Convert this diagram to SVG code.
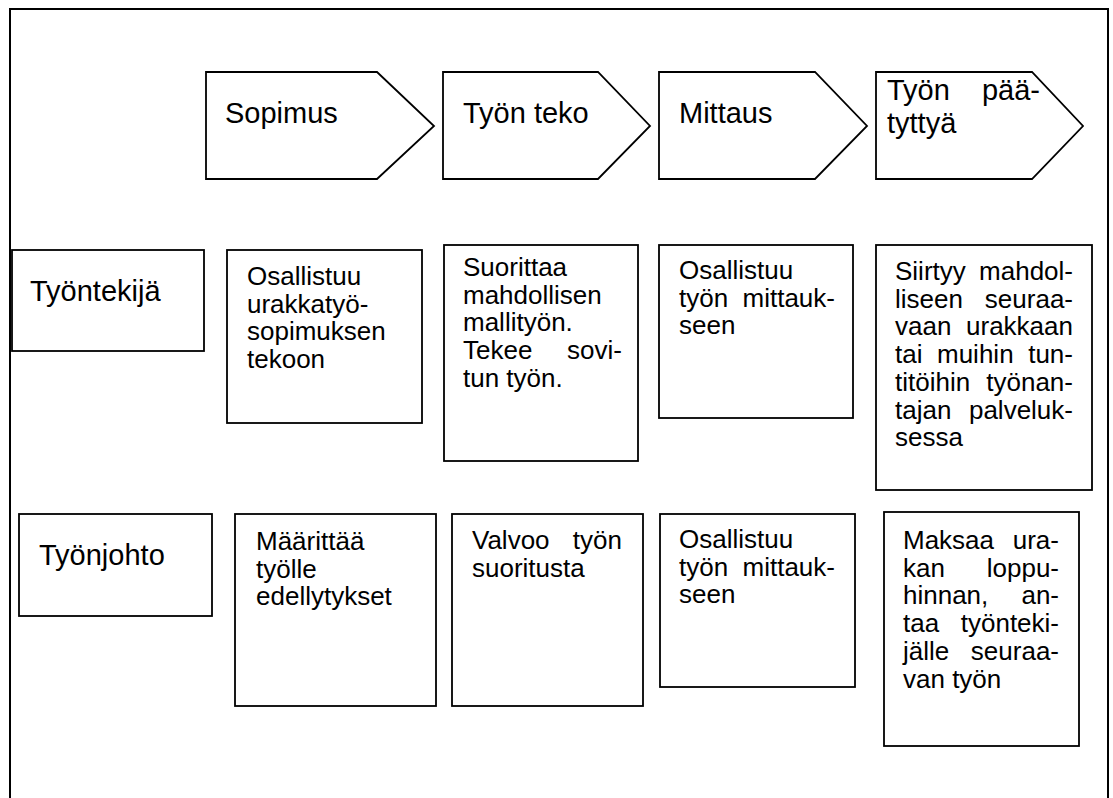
<svg xmlns="http://www.w3.org/2000/svg" width="1113" height="798" viewBox="0 0 1113 798">
<style>
.s{fill:#fff;stroke:#000;stroke-width:1.8}
.h{font-family:"Liberation Sans",Arial,sans-serif;font-size:29px;fill:#000}
.b{font-family:"Liberation Sans",Arial,sans-serif;font-size:26px;fill:#000}
.e{text-anchor:end}
</style>
<rect width="1113" height="798" fill="#fff"/>
<rect id="frame" x="10" y="9" width="1098" height="820" fill="none" stroke="#000" stroke-width="2"/>
<g id="connectors"/>
<g id="phase-sopimus">
<polygon class="s" points="206,72 377,72 434,126 377,179 206,179"/>
<text class="h" x="225" y="123">Sopimus</text>
</g>
<g id="phase-tyon-teko">
<polygon class="s" points="443,72 598,72 650,126 598,179 443,179"/>
<text class="h" x="463" y="123">Työn teko</text>
</g>
<g id="phase-mittaus">
<polygon class="s" points="659,72 815,72 867,126 815,179 659,179"/>
<text class="h" x="679" y="123">Mittaus</text>
</g>
<g id="phase-paatyttya">
<polygon class="s" points="876,72 1032,72 1083,126 1032,179 876,179"/>
<text class="h" x="887" y="100">Työn</text>
<text class="h e" x="1040" y="100">pää-</text>
<text class="h" x="887" y="133">tyttyä</text>
</g>
<g id="role-tyontekija">
<rect class="s" x="12" y="250" width="192" height="101"/>
<text class="h" x="30" y="301">Työntekijä</text>
</g>
<g id="r1-sopimus">
<rect class="s" x="227" y="250" width="195" height="173"/>
<text class="b" x="247" y="285">Osallistuu</text>
<text class="b" x="247" y="312.7">urakkatyö-</text>
<text class="b" x="247" y="340.4">sopimuksen</text>
<text class="b" x="247" y="368.1">tekoon</text>
</g>
<g id="r1-tyon-teko">
<rect class="s" x="444" y="245" width="194" height="216"/>
<text class="b" x="463" y="276">Suorittaa</text>
<text class="b" x="463" y="303.7">mahdollisen</text>
<text class="b" x="463" y="331.4">mallityön.</text>
<text class="b" x="463" y="359.1">Tekee</text>
<text class="b e" x="622" y="359.1">sovi-</text>
<text class="b" x="463" y="386.8">tun työn.</text>
</g>
<g id="r1-mittaus">
<rect class="s" x="659" y="245" width="194" height="173"/>
<text class="b" x="679" y="279">Osallistuu</text>
<text class="b" x="679" y="306.7">työn</text>
<text class="b e" x="835" y="306.7">mittauk-</text>
<text class="b" x="679" y="334.4">seen</text>
</g>
<g id="r1-paatyttya">
<rect class="s" x="876" y="245" width="216" height="245"/>
<text class="b" x="895" y="280">Siirtyy</text>
<text class="b e" x="1073" y="280">mahdol-</text>
<text class="b" x="895" y="307.7">liseen</text>
<text class="b e" x="1073" y="307.7">seuraa-</text>
<text class="b" x="895" y="335.4">vaan</text>
<text class="b e" x="1073" y="335.4">urakkaan</text>
<text class="b" x="895" y="363.1">tai</text>
<text class="b" x="937" y="363.1">muihin</text>
<text class="b e" x="1073" y="363.1">tun-</text>
<text class="b" x="895" y="390.8">titöihin</text>
<text class="b e" x="1073" y="390.8">työnan-</text>
<text class="b" x="895" y="418.5">tajan</text>
<text class="b e" x="1073" y="418.5">palveluk-</text>
<text class="b" x="895" y="446.2">sessa</text>
</g>
<g id="role-tyonjohto">
<rect class="s" x="19" y="514" width="193" height="102"/>
<text class="h" x="39" y="565">Työnjohto</text>
</g>
<g id="r2-sopimus">
<rect class="s" x="235" y="514" width="201" height="192"/>
<text class="b" x="256" y="550">Määrittää</text>
<text class="b" x="256" y="577.7">työlle</text>
<text class="b" x="256" y="605.4">edellytykset</text>
</g>
<g id="r2-tyon-teko">
<rect class="s" x="452" y="514" width="191" height="192"/>
<text class="b" x="472" y="549">Valvoo</text>
<text class="b e" x="622" y="549">työn</text>
<text class="b" x="472" y="576.7">suoritusta</text>
</g>
<g id="r2-mittaus">
<rect class="s" x="660" y="514" width="195" height="173"/>
<text class="b" x="679" y="548">Osallistuu</text>
<text class="b" x="679" y="575.7">työn</text>
<text class="b e" x="835" y="575.7">mittauk-</text>
<text class="b" x="679" y="603.4">seen</text>
</g>
<g id="r2-paatyttya">
<rect class="s" x="884" y="512" width="195" height="234"/>
<text class="b" x="903" y="549">Maksaa</text>
<text class="b e" x="1059" y="549">ura-</text>
<text class="b" x="903" y="576.7">kan</text>
<text class="b e" x="1059" y="576.7">loppu-</text>
<text class="b" x="903" y="604.4">hinnan,</text>
<text class="b e" x="1059" y="604.4">an-</text>
<text class="b" x="903" y="632.1">taa</text>
<text class="b e" x="1059" y="632.1">työnteki-</text>
<text class="b" x="903" y="659.8">jälle</text>
<text class="b e" x="1059" y="659.8">seuraa-</text>
<text class="b" x="903" y="687.5">van työn</text>
</g>
</svg>
